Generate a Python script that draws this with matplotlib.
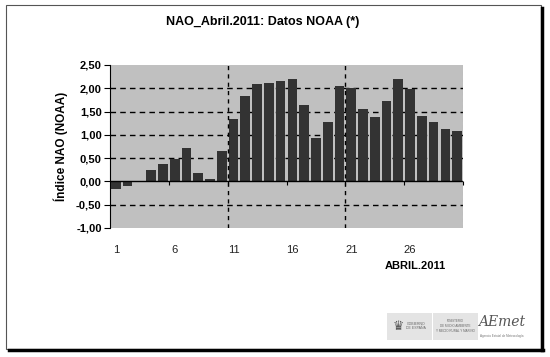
import matplotlib
matplotlib.use("Agg")
import matplotlib.pyplot as plt
from matplotlib.patches import Rectangle
import numpy as np

plt.rcParams['font.family'] = ['Liberation Sans', 'DejaVu Sans']

days = list(range(1, 31))
nao = [-0.17, -0.10, 0.00, 0.24, 0.38, 0.49, 0.72, 0.19, 0.05, 0.65,
       1.34, 1.83, 2.09, 2.12, 2.16, 2.20, 1.65, 0.93, 1.28, 2.04,
       2.01, 1.56, 1.39, 1.72, 2.20, 1.98, 1.41, 1.28, 1.13, 1.08]
xtick_labels = ['1', '6', '11', '16', '21', '26']
ytick_vals = [-1.0, -0.5, 0.0, 0.5, 1.0, 1.5, 2.0, 2.5]
ymin, ymax = -1.0, 2.5

fig = plt.figure(figsize=(5.5, 3.57), dpi=100)
fig.patch.set_facecolor('white')

# outer frame
fig.add_artist(Rectangle((6/550, 1 - 349/357), (541-6)/550, (349-5)/357,
                         transform=fig.transFigure, fill=False,
                         edgecolor='#555555', lw=0.8))
fig.add_artist(plt.Line2D([542/550, 542/550], [1 - 8/357, 1 - 350/357],
                          transform=fig.transFigure, color='black', lw=2.5))
fig.add_artist(plt.Line2D([9/550, 543/550], [1 - 349.5/357, 1 - 349.5/357],
                          transform=fig.transFigure, color='black', lw=2.5))

ax = fig.add_axes([110/550, 1 - 228/357, 353/550, 163/357])
ax.set_facecolor('#c0c0c0')
x = np.arange(len(days))
ax.bar(x, nao, width=0.82, color='#333333', zorder=3)
ax.set_xlim(-0.5, len(days) - 0.5)
ax.set_ylim(ymin, ymax)

# grid
for yv in ytick_vals:
    if yv not in (0.0, ymin, ymax):
        ax.axhline(yv, color='black', lw=1.0, ls=(0, (4, 3)), zorder=2)
ax.axhline(0, color='black', lw=1.0, zorder=4)
for xv in [9.5, 19.5]:
    ax.axvline(xv, color='black', lw=1.0, ls=(0, (3, 3)), zorder=4)
ax.axvline(29.5, color='#aaaaaa', lw=0.8, ls=(0, (3, 3)), zorder=4)

ax.set_yticks(ytick_vals)
ax.set_yticklabels([f"{v:.2f}".replace('.', ',') for v in ytick_vals],
                   fontsize=8, fontweight='bold')
ax.set_xticks([0, 5, 10, 15, 20, 25])
ax.set_xticklabels(xtick_labels, fontsize=8, color='#222222')
ax.tick_params(axis='x', which='major', length=0, pad=12)
ax.tick_params(axis='y', length=4, direction='out', width=0.8, pad=2)
for s in ['top', 'right', 'bottom']:
    ax.spines[s].set_visible(False)
ax.spines['left'].set_color('black')

# category axis crossing at zero with tick marks between categories
zero_frac = (0 - ymin) / (ymax - ymin)
sec = ax.secondary_xaxis(zero_frac)
sec.set_xticks([4.5, 9.5, 14.5, 19.5, 24.5, 29.5])
sec.set_xticklabels([])
sec.tick_params(length=3, direction='out', width=0.8)
sec.spines['bottom'].set_visible(False)

ax.set_ylabel('Índice NAO (NOAA)', fontsize=8.5, fontweight='bold', labelpad=6)

fig.text(263/550, 1 - 22/357, 'NAO_Abril.2011: Datos NOAA (*)', ha='center',
         va='center', fontsize=9, fontweight='bold')
fig.text(415/550, 1 - 266/357, 'ABRIL.2011', ha='center', va='center',
         fontsize=8, fontweight='bold')

# logos (approximation)
fig.add_artist(Rectangle((387/550, 1 - 340/357), 91/550, 27/357,
                         transform=fig.transFigure, facecolor='#e4e4e4',
                         edgecolor='none'))
fig.add_artist(Rectangle((432/550, 1 - 340/357), 1/550, 27/357,
                         transform=fig.transFigure, facecolor='white',
                         edgecolor='none'))
fig.text(398/550, 1 - 326/357, '♛', ha='center', va='center', fontsize=9,
         color='#555555', family=['DejaVu Sans'])
fig.text(416/550, 1 - 326/357, 'GOBIERNO\nDE ESPAÑA', ha='center', va='center',
         fontsize=2.5, color='#666666')
fig.text(455/550, 1 - 326/357, 'MINISTERIO\nDE MEDIO AMBIENTE\nY MEDIO RURAL Y MARINO',
         ha='center', va='center', fontsize=2.2, color='#666666')
fig.text(502/550, 1 - 322/357, 'AEmet', ha='center', va='center', fontsize=10,
         style='italic', color='#555555', family=['DejaVu Serif'])
fig.text(502/550, 1 - 336/357, 'Agencia Estatal de Meteorología', ha='center',
         va='center', fontsize=2.2, color='#777777')

fig.savefig('out.png', dpi=100, facecolor='white')
